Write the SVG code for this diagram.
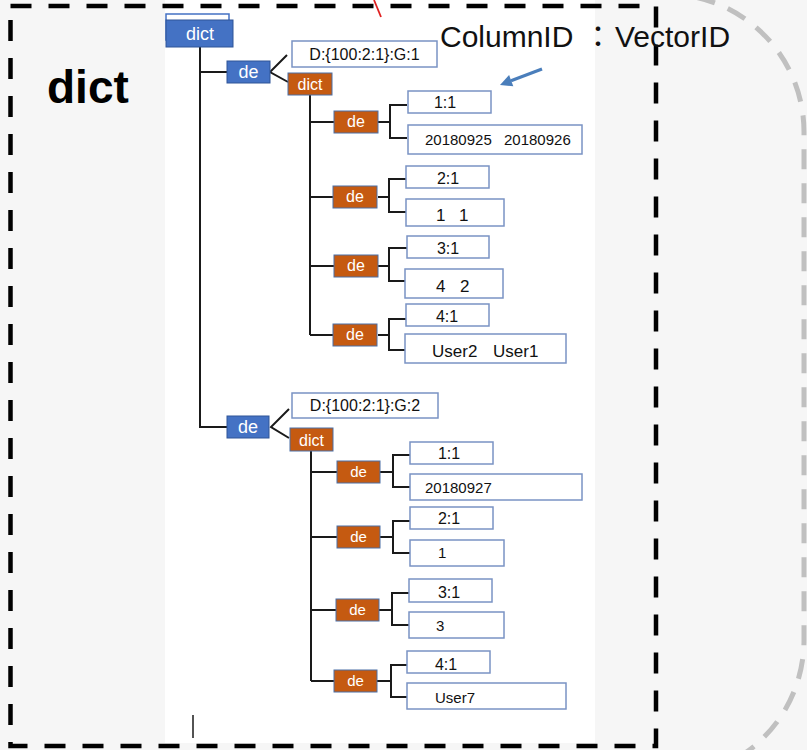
<svg xmlns="http://www.w3.org/2000/svg" width="807" height="750" viewBox="0 0 807 750">
  <style>
    .bb { fill: #4472C4; stroke: #2F5597; stroke-width: 1; }
    .ob { fill: #C55A11; stroke: #4A6FA5; stroke-width: 1; }
    .vb { fill: #ffffff; stroke: #7A93C4; stroke-width: 1.5; }
    .wt { fill: #ffffff; font-family: "Liberation Sans", Arial, sans-serif; text-anchor: middle; }
    .kt { fill: #111111; font-family: "Liberation Sans", Arial, sans-serif; font-size: 16px; text-anchor: middle; }
    .vt { fill: #111111; font-family: "Liberation Sans", Arial, sans-serif; font-size: 15px; }
    .vt17 { fill: #111111; font-family: "Liberation Sans", Arial, sans-serif; font-size: 17px; }
    .ln { fill: none; stroke: #1a1a1a; stroke-width: 2; }
  </style>

  <!-- page background and white sheet -->
  <rect x="0" y="0" width="807" height="750" fill="#f6f6f6"/>
  <rect x="165" y="0" width="430" height="743" fill="#ffffff"/>

  <!-- grey rounded outline on the right -->
  <path d="M560 -6 H667 A138 138 0 0 1 804 132 V640 A138 138 0 0 1 667 778 H560" fill="none" stroke="#c0c0c0" stroke-width="5" stroke-dasharray="20 14"/>

  <!-- black dashed frame -->
  <rect x="10.5" y="6" width="645.5" height="740" fill="none" stroke="#000000" stroke-width="4.5" stroke-dasharray="21 17"/>

  <!-- red stroke at the top -->
  <line x1="374" y1="0" x2="381" y2="17" stroke="#e02020" stroke-width="1.8"/>

  <!-- titles -->
  <text x="47" y="103" font-family="Liberation Sans, Arial, sans-serif" font-size="46" font-weight="bold" fill="#000000">dict</text>
  <text font-family="Liberation Sans, 'Noto Sans CJK JP', sans-serif" font-size="30" fill="#111111" y="47"><tspan x="440">ColumnID</tspan><tspan x="583" font-family="'Noto Sans CJK JP', sans-serif">：</tspan><tspan x="615">VectorID</tspan></text>

  <!-- pointer arrow -->
  <g id="pointer">
    <line x1="542" y1="69" x2="511" y2="80.7" stroke="#4A7EBB" stroke-width="3.2"/>
    <polygon points="500,85 513.3,86.3 509.1,75.1" fill="#4A7EBB"/>
  </g>

  <!-- connectors -->
  <g id="connectors" class="ln">
    <!-- root trunk -->
    <path d="M200 47 V428 M200 72 H227 M200 427 H227"/>
    <path d="M287 55 L270 72 L288 82"/>
    <path d="M289 409 L271 427 L289 438"/>
    <!-- first inner dict -->
    <path d="M310 95 V335 M310 122 H334 M310 197 H334 M310 266 H334 M310 335 H334"/>
    <path d="M378 122 H390 M407 105 H390 V138 H407"/>
    <path d="M378 197 H389 M406 179 H389 V212 H406"/>
    <path d="M378 266 H389 M407 248 H389 V281 H405"/>
    <path d="M378 335 H389 M406 319 H389 V350 H405"/>
    <!-- second inner dict -->
    <path d="M311 451 V681 M311 472 H337 M311 537 H337 M311 610 H336 M311 681 H334"/>
    <path d="M380 472 H393 M410 455 H393 V487 H410"/>
    <path d="M380 537 H393 M410 521 H393 V553 H410"/>
    <path d="M379 610 H392 M409 593 H392 V625 H409"/>
    <path d="M377 681 H391 M407 665 H391 V697 H407"/>
    <path d="M193 715 V738" stroke-width="1.5"/>
  </g>

  <!-- root dict -->
  <g id="root-dict">
    <rect x="166" y="14" width="63" height="26" fill="#ffffff" stroke="#4472C4" stroke-width="1.5"/>
    <rect class="bb" x="166" y="20" width="67" height="27"/>
    <text class="wt" x="200" y="40" font-size="18">dict</text>
  </g>

  <!-- group 1 -->
  <g id="de-g1">
    <rect class="bb" x="227" y="61" width="43" height="22"/>
    <text class="wt" x="248.5" y="78" font-size="18">de</text>
  </g>
  <g id="key-g1">
    <rect class="vb" x="292" y="41" width="145" height="26"/>
    <text class="kt" x="364.5" y="60">D:{100:2:1}:G:1</text>
  </g>
  <g id="dict-g1">
    <rect class="ob" x="288" y="73" width="44" height="22"/>
    <text class="wt" x="310" y="90" font-size="16">dict</text>
  </g>

  <g id="g1-de1">
    <rect class="ob" x="334" y="111" width="44" height="22"/>
    <text class="wt" x="356" y="127" font-size="16">de</text>
  </g>
  <g id="g1-k1"><rect class="vb" x="408" y="91" width="83" height="22"/><text class="kt" x="445" y="108">1:1</text></g>
  <g id="g1-v1"><rect class="vb" x="408" y="125" width="174" height="29"/><text class="vt" x="425" y="145">20180925<tspan x="504">20180926</tspan></text></g>

  <g id="g1-de2">
    <rect class="ob" x="333" y="186" width="44" height="22"/>
    <text class="wt" x="355" y="202" font-size="16">de</text>
  </g>
  <g id="g1-k2"><rect class="vb" x="406" y="166" width="83" height="22"/><text class="kt" x="448" y="184">2:1</text></g>
  <g id="g1-v2"><rect class="vb" x="406" y="199" width="98" height="27"/><text class="vt17" x="436" y="221">1<tspan x="459">1</tspan></text></g>

  <g id="g1-de3">
    <rect class="ob" x="334" y="255" width="44" height="22"/>
    <text class="wt" x="356" y="271" font-size="16">de</text>
  </g>
  <g id="g1-k3"><rect class="vb" x="407" y="236" width="82" height="22"/><text class="kt" x="448" y="254">3:1</text></g>
  <g id="g1-v3"><rect class="vb" x="405" y="269" width="98" height="29"/><text class="vt17" x="436" y="292">4<tspan x="460">2</tspan></text></g>

  <g id="g1-de4">
    <rect class="ob" x="333" y="324" width="44" height="22"/>
    <text class="wt" x="355" y="340" font-size="16">de</text>
  </g>
  <g id="g1-k4"><rect class="vb" x="406" y="304" width="83" height="22"/><text class="kt" x="447" y="322">4:1</text></g>
  <g id="g1-v4"><rect class="vb" x="405" y="334" width="161" height="29"/><text class="vt17" x="432" y="357">User2<tspan x="493">User1</tspan></text></g>

  <!-- group 2 -->
  <g id="de-g2">
    <rect class="bb" x="227" y="416" width="42" height="22"/>
    <text class="wt" x="248" y="433" font-size="18">de</text>
  </g>
  <g id="key-g2">
    <rect class="vb" x="292" y="393" width="146" height="25"/>
    <text class="kt" x="365" y="411">D:{100:2:1}:G:2</text>
  </g>
  <g id="dict-g2">
    <rect class="ob" x="290" y="428" width="43" height="23"/>
    <text class="wt" x="311.5" y="446" font-size="16">dict</text>
  </g>

  <g id="g2-de1">
    <rect class="ob" x="337" y="461" width="43" height="22"/>
    <text class="wt" x="358.5" y="477" font-size="15">de</text>
  </g>
  <g id="g2-k1"><rect class="vb" x="410" y="442" width="83" height="22"/><text class="kt" x="449" y="459">1:1</text></g>
  <g id="g2-v1"><rect class="vb" x="410" y="474" width="172" height="26"/><text class="vt" x="425" y="493">20180927</text></g>

  <g id="g2-de2">
    <rect class="ob" x="337" y="526" width="43" height="22"/>
    <text class="wt" x="358.5" y="542" font-size="15">de</text>
  </g>
  <g id="g2-k2"><rect class="vb" x="410" y="507" width="83" height="22"/><text class="kt" x="449" y="524">2:1</text></g>
  <g id="g2-v2"><rect class="vb" x="410" y="540" width="94" height="26"/><text class="vt" x="438" y="558">1</text></g>

  <g id="g2-de3">
    <rect class="ob" x="336" y="599" width="43" height="22"/>
    <text class="wt" x="357.5" y="615" font-size="15">de</text>
  </g>
  <g id="g2-k3"><rect class="vb" x="409" y="579" width="83" height="23"/><text class="kt" x="449" y="598">3:1</text></g>
  <g id="g2-v3"><rect class="vb" x="409" y="612" width="95" height="26"/><text class="vt" x="436" y="631">3</text></g>

  <g id="g2-de4">
    <rect class="ob" x="334" y="670" width="43" height="22"/>
    <text class="wt" x="355.5" y="686" font-size="15">de</text>
  </g>
  <g id="g2-k4"><rect class="vb" x="407" y="651" width="83" height="22"/><text class="kt" x="446" y="670">4:1</text></g>
  <g id="g2-v4"><rect class="vb" x="407" y="683" width="159" height="26"/><text class="vt" x="435" y="703">User7</text></g>
</svg>
